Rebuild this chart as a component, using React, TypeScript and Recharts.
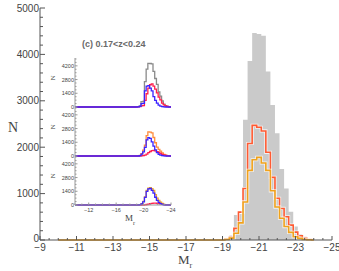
import React from 'react';
import { ComposedChart, Area, Line, XAxis, YAxis } from 'recharts';

// bin centres (absolute magnitude M_r), bin width 0.25
const magBins = [
  -19, -19.25, -19.5, -19.75, -20, -20.25, -20.5, -20.75, -21, -21.25, -21.5,
  -21.75, -22, -22.25, -22.5, -22.75, -23, -23.25, -23.5, -23.75, -24,
];
// zero rows so the step lines run along the floor from the left edge
const padMags = [-10, -18.75];

// main panel
const totalN = [20, 40, 100, 540, 560, 2590, 3860, 4460, 4440, 4400, 3630, 2910, 2300, 1530, 1110, 610, 290, 130, 70, 25, 10];
const redN = [0, 20, 60, 250, 600, 1110, 2080, 2470, 2430, 2350, 1890, 1350, 900, 680, 500, 320, 170, 90, 35, 10, 0];
const orangeN = [0, 10, 40, 145, 370, 820, 1500, 1730, 1780, 1660, 1500, 1060, 710, 470, 290, 165, 70, 35, 12, 5, 0];

// inset sub-samples
const p1BlueN = [0, 10, 60, 340, 370, 1640, 2120, 2180, 1930, 1640, 1060, 680, 390, 190, 90, 30, 10, 0, 0, 0, 0];
const p1RedN = [10, 20, 30, 115, 145, 680, 1350, 1930, 2270, 2350, 2120, 1830, 1450, 1010, 720, 400, 210, 100, 50, 15, 0];
const p2BlueN = [0, 0, 40, 190, 430, 870, 1640, 1880, 1790, 1450, 1010, 630, 340, 170, 80, 30, 10, 0, 0, 0, 0];
const p2RedN = [0, 0, 0, 10, 30, 80, 190, 340, 460, 540, 560, 520, 440, 370, 270, 170, 110, 60, 20, 5, 0];
const p3BlueN = [0, 0, 30, 125, 320, 770, 1400, 1640, 1690, 1500, 1210, 790, 480, 270, 135, 60, 20, 0, 0, 0, 0];
const p3RedN = [0, 0, 0, 0, 0, 20, 50, 90, 135, 175, 200, 190, 175, 145, 105, 70, 40, 20, 5, 0, 0];

const mainXLabels = [-9, -11, -13, -15, -17, -19, -21, -23, -25];
const mainYLabels = [0, 1000, 2000, 3000, 4000, 5000];
const insetXLabels = [-12, -16, -20, -24];
const insetYLabels = [0, 1400, 2800, 4200];

const mainXTicks: number[] = [];
for (let v = -9; v >= -25; v -= 0.5) mainXTicks.push(v);
const mainYTicks: number[] = [];
for (let v = 0; v <= 5000; v += 200) mainYTicks.push(v);
const insetXTicks: number[] = [];
for (let v = -10; v >= -24; v -= 1) insetXTicks.push(v);
const insetYTicks: number[] = [];
for (let v = 0; v <= 4900; v += 350) insetYTicks.push(v);

const rows = [
  ...padMags.map((m) => ({ m, total: 0, red: 0, orange: 0, p1b: 0, p1r: 0, p2b: 0, p2r: 0, p3b: 0, p3r: 0 })),
  ...magBins.map((m, i) => ({
    m,
    total: totalN[i],
    red: redN[i],
    orange: orangeN[i],
    p1b: p1BlueN[i],
    p1r: p1RedN[i],
    p2b: p2BlueN[i],
    p2r: p2RedN[i],
    p3b: p3BlueN[i],
    p3r: p3RedN[i],
  })),
];

const AXIS = '#555';
const TEXT = '#444';
const SANS = '"Liberation Sans", Arial, sans-serif';
const SERIF = '"Liberation Serif", "Times New Roman", serif';
const minus = (v: number) => String(v).replace('-', '\u2212');

function MainXTick({ x, y, payload }: any) {
  const v = payload.value;
  const major = mainXLabels.includes(v);
  return (
    <g>
      <line x1={x} x2={x} y1={y} y2={y - (major ? 4 : 2)} stroke={AXIS} />
      {major && (
        <text x={x} y={y + 11} textAnchor="middle" fontSize={10} fill={TEXT} fontFamily={SANS}>
          {minus(v)}
        </text>
      )}
    </g>
  );
}

function MainYTick({ x, y, payload }: any) {
  const v = payload.value;
  const major = mainYLabels.includes(v);
  return (
    <g>
      <line x1={x} x2={x + (major ? 5 : 3)} y1={y} y2={y} stroke={AXIS} />
      {major && (
        <text x={x - 1} y={y + (v === 0 ? 1.5 : 3.5)} textAnchor="end" fontSize={10} fill={TEXT} fontFamily={SANS}>
          {v}
        </text>
      )}
    </g>
  );
}

function InsetXTick({ x, y, payload, labels }: any) {
  const v = payload.value;
  const major = insetXLabels.includes(v);
  return (
    <g>
      <line x1={x} x2={x} y1={y} y2={y - (major ? 2.5 : 1.5)} stroke="#999" />
      {labels && major && (
        <text x={x} y={y + 7} textAnchor="middle" fontSize={5.5} fill={TEXT} fontFamily={SANS}>
          {minus(v)}
        </text>
      )}
    </g>
  );
}

function InsetYTick({ x, y, payload }: any) {
  const v = payload.value;
  const major = insetYLabels.includes(v);
  return (
    <g>
      <line x1={x} x2={x + (major ? 2.5 : 1.5)} y1={y} y2={y} stroke="#999" />
      {major && (
        <text x={x - 1} y={y + 2} textAnchor="end" fontSize={5.5} fill={TEXT} fontFamily={SANS}>
          {v}
        </text>
      )}
    </g>
  );
}

function stepLine(key: string, color: string, width = 1.3) {
  return (
    <Line
      key={key + color + width}
      type="step"
      dataKey={key}
      stroke={color}
      strokeWidth={width}
      dot={false}
      activeDot={false}
      isAnimationActive={false}
    />
  );
}

// one of the three stacked inset panels; plot area is 96 x 49 px
function InsetPanel({ top, lines, labels }: { top: number; lines: [string, string][]; labels?: boolean }) {
  const axisH = labels ? 14 : 0;
  return (
    <div style={{ position: 'absolute', left: 45, top: top - 4 }}>
      <ComposedChart width={135} height={49 + 8 + axisH} data={rows} margin={{ top: 4, right: 9, bottom: 4, left: 0 }}>
        <XAxis
          dataKey="m"
          type="number"
          domain={[-24, -10]}
          reversed
          ticks={insetXTicks}
          interval={0}
          height={axisH}
          tickSize={0}
          tickMargin={0}
          tickLine={false}
          stroke="#999"
          tick={(p: any) => <InsetXTick {...p} labels={labels} />}
        />
        <XAxis xAxisId="top" orientation="top" dataKey="m" type="number" domain={[-24, -10]} reversed height={0} tick={false} tickLine={false} stroke="#999" />
        <YAxis
          type="number"
          domain={[0, 5000]}
          ticks={insetYTicks}
          interval={0}
          width={30}
          tickSize={0}
          tickMargin={0}
          tickLine={false}
          stroke="#999"
          tick={(p: any) => <InsetYTick {...p} />}
        />
        <YAxis yAxisId="right" orientation="right" type="number" domain={[0, 5000]} width={0} tick={false} tickLine={false} stroke="#999" />
        {lines.map(([k, c]) => stepLine(k, c))}
      </ComposedChart>
    </div>
  );
}

export default function App() {
  return (
    <div style={{ position: 'absolute', left: 0, top: 0, width: 339, height: 271, background: '#fff' }}>
      <ComposedChart width={339} height={271} data={rows} margin={{ top: 8, right: 7, bottom: 0, left: 0 }}>
        <XAxis
          dataKey="m"
          type="number"
          domain={[-25, -9]}
          reversed
          ticks={mainXTicks}
          interval={0}
          height={31}
          tickSize={0}
          tickMargin={0}
          tickLine={false}
          stroke={AXIS}
          tick={(p: any) => <MainXTick {...p} />}
        />
        <XAxis xAxisId="top" orientation="top" dataKey="m" type="number" domain={[-25, -9]} reversed height={0} tick={false} tickLine={false} stroke={AXIS} />
        <YAxis
          type="number"
          domain={[0, 5000]}
          ticks={mainYTicks}
          interval={0}
          width={40}
          tickSize={0}
          tickMargin={0}
          tickLine={false}
          stroke={AXIS}
          tick={(p: any) => <MainYTick {...p} />}
        />
        <YAxis yAxisId="right" orientation="right" type="number" domain={[0, 5000]} width={0} tick={false} tickLine={false} stroke={AXIS} />
        <Area type="step" dataKey="total" fill="#cacaca" fillOpacity={1} stroke="none" isAnimationActive={false} />
        {stepLine('red', 'rgba(255,255,255,0.75)', 3.2)}
        {stepLine('red', '#ff5a32', 1.6)}
        {stepLine('orange', 'rgba(255,255,255,0.75)', 3.2)}
        {stepLine('orange', '#f0a21c', 1.6)}
      </ComposedChart>

      <InsetPanel top={58} lines={[['total', '#8a8a8a'], ['p1r', '#ff1f4e'], ['p1b', '#3b22ff']]} />
      <InsetPanel top={107} lines={[['red', '#ff8c3c'], ['p2r', '#ff1f4e'], ['p2b', '#3b22ff']]} />
      <InsetPanel top={156} lines={[['orange', '#f2a72a'], ['p3r', '#ff1f4e'], ['p3b', '#3b22ff']]} labels />

      <svg width={339} height={271} style={{ position: 'absolute', left: 0, top: 0, pointerEvents: 'none' }}>
        <text x={8} y={132} fontSize={14} fill={TEXT} fontFamily={SERIF}>N</text>
        <text x={178} y={264} fontSize={13} fill={TEXT} fontFamily={SERIF}>
          M<tspan dy={4} fontSize={8}>r</tspan>
        </text>
        <text x={82} y={47} fontSize={9} fontWeight="bold" fill="#6a6a6a" fontFamily={SANS}>(c) 0.17&lt;z&lt;0.24</text>
        {[58, 107, 156].map((t) => (
          <text key={t} x={0} y={0} fontSize={7} fill={TEXT} fontFamily={SERIF} transform={`translate(55, ${t + 20}) rotate(-90)`} textAnchor="middle">
            N
          </text>
        ))}
        <text x={125} y={221} fontSize={9} fill={TEXT} fontFamily={SERIF}>
          M<tspan dy={4} fontSize={6}>r</tspan>
        </text>
      </svg>
    </div>
  );
}
